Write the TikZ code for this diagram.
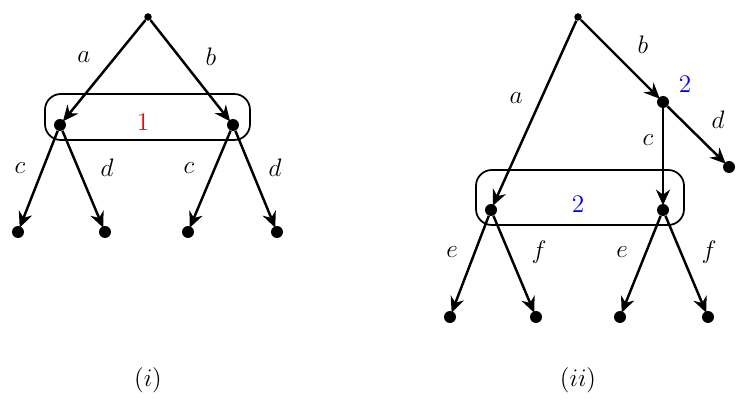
\documentclass[tikz,border=0pt]{standalone}
\usepackage{amsmath}
\usetikzlibrary{arrows.meta}
\begin{document}
\begin{tikzpicture}[x=0.02cm,y=-0.02cm,
  dot/.style={circle,fill=black,inner sep=0pt,minimum size=0.24cm},
  top/.style={circle,fill=black,inner sep=0pt,minimum size=0.15cm},
  edge/.style={line width=1.4pt,-{Stealth[length=9pt,width=8pt]},shorten >=-1pt},
  lbl/.style={font=\Large}]
\useasboundingbox (0,0) rectangle (748,405);

% left tree
\node[top] (r1) at (148,17) {};
\node[dot] (l1) at (60,125) {};
\node[dot] (l2) at (233,125) {};
\node[dot] (c1) at (18,232) {};
\node[dot] (c2) at (105,232) {};
\node[dot] (c3) at (188,232) {};
\node[dot] (c4) at (277,232) {};
\draw[edge] (r1) -- (l1);
\draw[edge] (r1) -- (l2);
\draw[edge] (l1) -- (c1);
\draw[edge] (l1) -- (c2);
\draw[edge] (l2) -- (c3);
\draw[edge] (l2) -- (c4);
\draw[line width=1pt,rounded corners=9pt] (45,94) rectangle (250,140);
\node[lbl,text=red] at (143,122) {$1$};
\node[lbl] at (84,57) {$a$};
\node[lbl] at (211,57) {$b$};
\node[lbl] at (20,168) {$c$};
\node[lbl] at (107,168) {$d$};
\node[lbl] at (189,168) {$c$};
\node[lbl] at (275,168) {$d$};
\node[lbl] at (148,380) {$(i)$};

% right tree
\node[top] (r2) at (578,17) {};
\node[dot] (m) at (663,102) {};
\node[dot] (md) at (729,167) {};
\node[dot] (n1) at (491,210) {};
\node[dot] (n2) at (663,210) {};
\node[dot] (e1) at (450,317) {};
\node[dot] (e2) at (536,317) {};
\node[dot] (e3) at (620,317) {};
\node[dot] (e4) at (708,317) {};
\draw[edge] (r2) -- (n1);
\draw[edge] (r2) -- (m);
\draw[edge] (m) -- (md);
\draw[edge] (m) -- (n2);
\draw[edge] (n1) -- (e1);
\draw[edge] (n1) -- (e2);
\draw[edge] (n2) -- (e3);
\draw[edge] (n2) -- (e4);
\draw[line width=1pt,rounded corners=9pt] (476,170) rectangle (684,225);
\node[lbl,text=blue] at (578,204) {$2$};
\node[lbl,text=blue] at (685,84) {$2$};
\node[lbl] at (516,98) {$a$};
\node[lbl] at (643,45) {$b$};
\node[lbl] at (648,140) {$c$};
\node[lbl] at (718,120) {$d$};
\node[lbl] at (452,252) {$e$};
\node[lbl] at (539,252) {$f$};
\node[lbl] at (622,252) {$e$};
\node[lbl] at (709,252) {$f$};
\node[lbl] at (578,380) {$(ii)$};
\end{tikzpicture}
\end{document}
